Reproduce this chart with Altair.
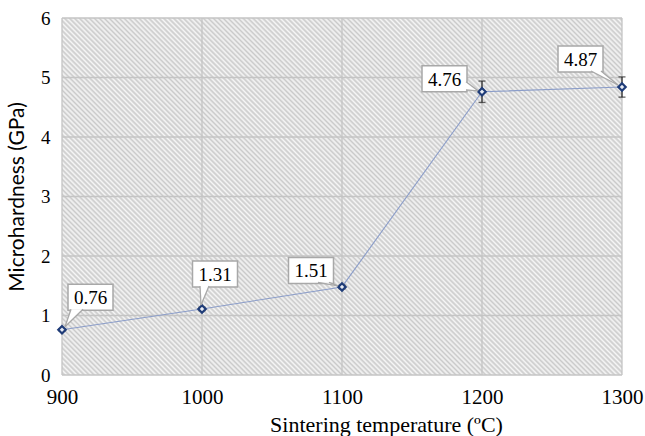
import altair as alt
import pandas as pd

# ---- data ----
TEMPS = [900, 1000, 1100, 1200, 1300]
HARDNESS = [0.76, 1.11, 1.48, 4.76, 4.84]
ERRORS = [0.02, 0.03, 0.03, 0.18, 0.17]
LABELS = ["0.76", "1.31", "1.51", "4.76", "4.87"]
X_TICKS = [900, 1000, 1100, 1200, 1300]
Y_TICKS = [0, 1, 2, 3, 4, 5, 6]

# ---- layout / style ----
W, H = 560, 357
XMIN, XMAX, YMIN, YMAX = 900, 1300, 0, 6
PX_X = W / (XMAX - XMIN)
PX_Y = H / (YMAX - YMIN)
SERIF = "Times New Roman, Liberation Serif, serif"

# callout geometry in pixels relative to the point (y down)
BOX_W, BOX_H = 45, 26
BOX_CENTER = [(28.5, -32.5), (13, -35), (-31, -16.5), (-37.5, -13), (-41.5, -28)]
# wedge: base vertex A, base vertex B, tip T
WEDGES = [
    ((9, -20.5), (21, -20.5), (3, -3)),
    ((-2, -23), (7, -23), (-1, -4)),
    ((-24, -4.5), (-13, -4.5), (-4, -1)),
    ((-16, -10), (-16, -2), (-4, -1)),
    ((-31, -16), (-21, -16), (-4, -2)),
]


def to_data(i, px, py):
    return TEMPS[i] + px / PX_X, HARDNESS[i] - py / PX_Y


df = pd.DataFrame({"t": TEMPS, "h": HARDNESS, "e": ERRORS, "lab": LABELS})
df["lo"] = df["h"] - df["e"]
df["hi"] = df["h"] + df["e"]

boxes, tri_rows, sides = [], [], []
for i in range(len(TEMPS)):
    cx, cy = BOX_CENTER[i]
    x0, y0 = to_data(i, cx - BOX_W / 2, cy + BOX_H / 2)
    x1, y1 = to_data(i, cx + BOX_W / 2, cy - BOX_H / 2)
    xc, yc = to_data(i, cx, cy)
    boxes.append({"k": i, "x": x0, "x2": x1, "y": y0, "y2": y1,
                  "xc": xc, "yc": yc, "lab": LABELS[i]})
    pts = sorted(WEDGES[i], key=lambda p: p[0])
    p0, p1, p2 = pts
    if p0[0] == p1[0]:
        rows = [(p0[0], p0[1], p1[1]), (p2[0], p2[1], p2[1])]
    elif p1[0] == p2[0]:
        rows = [(p0[0], p0[1], p0[1]), (p1[0], p1[1], p2[1])]
    else:
        ym = p0[1] + (p2[1] - p0[1]) * (p1[0] - p0[0]) / (p2[0] - p0[0])
        rows = [(p0[0], p0[1], p0[1]), (p1[0], p1[1], ym), (p2[0], p2[1], p2[1])]
    for (px, pa, pb) in rows:
        dx, da = to_data(i, px, pa)
        _, db = to_data(i, px, pb)
        tri_rows.append({"k": i, "x": dx, "y": da, "y2": db})
    A, B, T = WEDGES[i]
    for V in (A, B):
        vx, vy = to_data(i, *V)
        tx, ty = to_data(i, *T)
        sides.append({"k": i, "x": vx, "y": vy, "x2": tx, "y2": ty})

boxes = pd.DataFrame(boxes)
tri = pd.DataFrame(tri_rows)
sides = pd.DataFrame(sides)

# ---- hatch as a striped linear gradient ----
r = H / W
k = (1 + r) / (1 + r * r)
N = 185
stops = []
for s in range(2 * N + 1):
    stops.append(alt.GradientStop(offset=s / (2 * N),
                                  color="#cacaca" if s % 2 else "#f6f6f6"))
hatch_grad = alt.LinearGradient(gradient="linear", stops=stops,
                                x1=0, y1=1, x2=k, y2=1 - k * r)

xs = alt.Scale(domain=[XMIN, XMAX], nice=False, zero=False)
ys = alt.Scale(domain=[YMIN, YMAX], nice=False)

xaxis = alt.Axis(values=X_TICKS, grid=False, domain=False, ticks=False,
                 labelFont=SERIF, labelFontSize=21, labelColor="black",
                 labelPadding=11, format="d", labelFlush=False,
                 title="Sintering temperature (ºC)", titleFont=SERIF,
                 titleFontSize=22, titleFontWeight="normal", titleColor="black",
                 titleX=324, titleY=49, titleBaseline="middle", titleAlign="center")
yaxis = alt.Axis(values=Y_TICKS, grid=False, domain=False, ticks=False,
                 labelFont=SERIF, labelFontSize=19, labelColor="black",
                 labelPadding=12, format="d", labelFlush=False,
                 title="Microhardness (GPa)", titleFont="Lato",
                 titleFontSize=21, titleFontWeight="normal", titleColor="black",
                 titleX=-45, titleY=H / 2, titleBaseline="middle", titleAlign="center")

base = alt.Chart(df)

hatch = base.mark_rect(color=hatch_grad).encode(
    x=alt.datum(XMIN, scale=xs, axis=xaxis, type="quantitative"),
    x2=alt.datum(XMAX),
    y=alt.datum(YMIN, scale=ys, axis=yaxis, type="quantitative"),
    y2=alt.datum(YMAX),
)

vgrid = alt.Chart(pd.DataFrame({"v": X_TICKS})).mark_rule(
    color="#c4c4c4", strokeWidth=1.3).encode(x=alt.X("v:Q", scale=xs))
hgrid = alt.Chart(pd.DataFrame({"v": Y_TICKS})).mark_rule(
    color="#c4c4c4", strokeWidth=1.3).encode(y=alt.Y("v:Q", scale=ys))

line = base.mark_line(color="#8b9dc9", strokeWidth=1.1).encode(
    x=alt.X("t:Q", scale=xs), y=alt.Y("h:Q", scale=ys))

err = base.mark_rule(color="#222222", strokeWidth=1.2).encode(
    x="t:Q", y="lo:Q", y2="hi:Q")
cap_lo = base.mark_tick(color="#222222", orient="horizontal", size=7,
                        thickness=1.3).encode(x="t:Q", y="lo:Q")
cap_hi = base.mark_tick(color="#222222", orient="horizontal", size=7,
                        thickness=1.3).encode(x="t:Q", y="hi:Q")

pts = base.mark_point(shape="diamond", filled=True, fill="#e8ecf4",
                      stroke="#1f3c78", strokeWidth=2.2, size=55,
                      opacity=1).encode(x="t:Q", y="h:Q")

box = alt.Chart(boxes).mark_rect(fill="white", stroke="#a8a8a8",
                                 strokeWidth=1.5).encode(
    x="x:Q", x2="x2:Q", y="y:Q", y2="y2:Q")
wedge = alt.Chart(tri).mark_area(fill="white", opacity=1).encode(
    x="x:Q", y="y:Q", y2="y2:Q", detail="k:N")
wedge_sides = alt.Chart(sides).mark_rule(color="#a8a8a8", strokeWidth=1.3).encode(
    x="x:Q", y="y:Q", x2="x2:Q", y2="y2:Q")
txt = alt.Chart(boxes).mark_text(font=SERIF, fontSize=19, color="black",
                                 baseline="middle", dy=1).encode(
    x="xc:Q", y="yc:Q", text="lab:N")

chart = alt.layer(hatch, vgrid, hgrid, line, err, cap_lo, cap_hi, pts,
                  box, wedge, wedge_sides, txt).properties(
    width=W, height=H,
    autosize=alt.AutoSizeParams(type="none"),
    padding={"left": 62, "top": 18, "right": 23, "bottom": 61},
    background="white",
).configure_view(stroke=None)

chart.save("out.html", embed_options={"renderer": "svg", "actions": False})
